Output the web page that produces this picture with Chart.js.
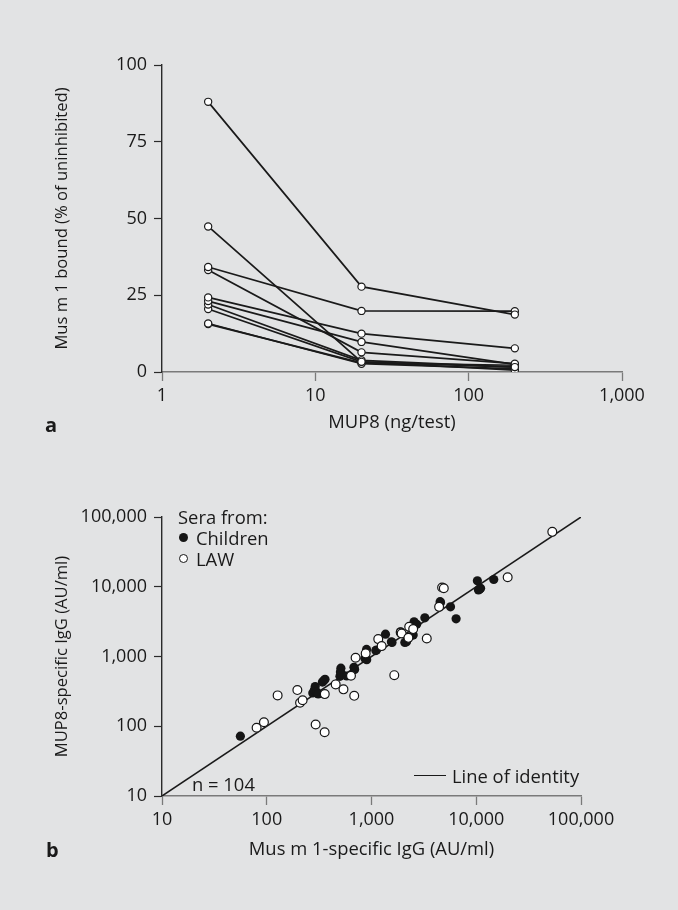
<!DOCTYPE html>
<html>
<head>
<meta charset="utf-8">
<script src="https://cdn.jsdelivr.net/npm/chart.js@4.4.1/dist/chart.umd.min.js"></script>
<style>
  html, body { margin: 0; padding: 0; background: #e2e3e4; }
  #wrap { position: relative; width: 678px; height: 910px; overflow: hidden; font-family: 'Open Sans', sans-serif; color: #1a1a1a; }
  canvas { position: absolute; left: 0; }
  .t { position: absolute; font-size: 18.4px; height: 24px; line-height: 24px; white-space: nowrap; }
  .lbl { position: absolute; font-size: 20px; font-weight: bold; height: 26px; line-height: 26px; }
  .dot { position: absolute; width: 9px; height: 9px; border-radius: 50%; box-sizing: border-box; }
</style>
</head>
<body>
<div id="wrap">
  <canvas id="chartA" width="678" height="455" style="top:0"></canvas>
  <canvas id="chartB" width="678" height="455" style="top:455px"></canvas>

  <div class="lbl" style="left:45px; top:412px">a</div>
  <div class="lbl" style="left:46px; top:837px">b</div>

  <div class="t" style="left:178px; top:505px">Sera from:</div>
  <div class="dot" style="left:179px; top:533px; background:#151515"></div>
  <div class="t" style="left:196px; top:526px">Children</div>
  <div class="dot" style="left:179px; top:554px; background:#fff; border:1.2px solid #151515"></div>
  <div class="t" style="left:196px; top:547px">LAW</div>

  <div class="t" style="left:192px; top:772px">n = 104</div>
  <div style="position:absolute; left:414px; top:775px; width:32px; height:0; border-top:1.5px solid #1a1a1a"></div>
  <div class="t" style="left:452px; top:764px">Line of identity</div>
</div>
<script>
Chart.defaults.font.family = "'Open Sans', sans-serif";
Chart.defaults.font.size = 18;
Chart.defaults.color = '#1a1a1a';

// panel a: inhibition curves
const doses = [2, 20, 200];
const boundCurves = [
  [88, 27.8, 18.7],
  [47.4, 3.3, 1.6],
  [34.2, 19.9, 19.8],
  [33.2, 6.4, 2.7],
  [24.3, 12.5, 7.7],
  [23.1, 9.8, 2.5],
  [22.0, 3.8, 1.6],
  [20.5, 3.3, 0.6],
  [15.8, 2.7, 1.0],
  [15.6, 3.0, 2.2]
];
const xTicksA = [1, 10, 100, 1000];
const yTicksA = [0, 25, 50, 75, 100];

// panel b: MUP8 vs Mus m 1 specific IgG
const childrenX = [56, 275, 285, 290, 300, 310, 340, 350, 360, 500, 505, 510, 520, 580, 680, 690,
  865, 900, 897, 1100, 1115, 1360, 1550, 1570, 1890, 2080, 2160, 2500, 2550, 2700, 3230,
  4520, 4560, 5680, 6420, 10250, 10500, 11000, 10800, 14700];
const childrenY = [72, 300, 330, 370, 310, 290, 430, 450, 470, 520, 600, 680, 560, 525, 700, 650,
  940, 900, 1265, 1215, 1240, 2090, 1625, 1590, 2260, 1590, 1625, 2030, 3140, 2900, 3580,
  6100, 5960, 5150, 3470, 12170, 9000, 9500, 9250, 12700];
const lawX = [80, 94, 127, 196, 208, 220, 293, 357, 358, 455, 540, 637, 684, 705, 880,
  1160, 1250, 1650, 1900, 1940, 2250, 2290, 2500, 3370, 4420, 4720, 4900, 19950, 53200];
const lawY = [95, 114, 277, 330, 217, 236, 106, 82, 289, 398, 338, 530, 273, 960, 1107,
  1775, 1410, 540, 2200, 2140, 1850, 2660, 2470, 1815, 5150, 9770, 9500, 13700, 61200];
const logTicksB = [10, 100, 1000, 10000, 100000];

const fmt = v => Number(v).toLocaleString('en-US');
const titleFont = {size: 18.4};
const yTitleFont = {size: 16.6};

new Chart(document.getElementById('chartA'), {
  type: 'line',
  data: {
    datasets: boundCurves.map(c => ({
      data: c.map((y, i) => ({x: doses[i], y: y})),
      borderColor: '#1a1a1a',
      borderWidth: 1.7,
      pointRadius: 3.6,
      pointBackgroundColor: '#fff',
      pointBorderColor: '#1a1a1a',
      pointBorderWidth: 1.2
    }))
  },
  options: {
    responsive: false,
    animation: false,
    devicePixelRatio: 1,
    layout: {padding: {top: 65, right: 56, bottom: 0, left: 0}},
    plugins: {legend: {display: false}, tooltip: {enabled: false}},
    scales: {
      x: {
        type: 'logarithmic', min: 1, max: 1000,
        afterBuildTicks: s => { s.ticks = xTicksA.map(v => ({value: v})); },
        afterFit: s => { s.height = 83; },
        ticks: {callback: fmt, padding: 4, maxRotation: 0, autoSkip: false},
        grid: {drawOnChartArea: false, tickLength: 9, color: '#7a7a7a', tickWidth: 1.3},
        border: {color: '#7a7a7a', width: 1.6},
        title: {display: true, text: 'MUP8 (ng/test)', font: titleFont, padding: {top: 0, bottom: 21}}
      },
      y: {
        min: 0, max: 100,
        afterBuildTicks: s => { s.ticks = yTicksA.map(v => ({value: v})); },
        afterFit: s => { s.width = 162; },
        ticks: {padding: 7},
        grid: {drawOnChartArea: false, tickLength: 8, color: '#2a2a2a', tickWidth: 1.2},
        border: {color: '#2a2a2a', width: 1.4},
        title: {display: true, text: 'Mus m 1 bound (% of uninhibited)', font: yTitleFont, padding: {top: 52, bottom: 0}}
      }
    }
  }
});

new Chart(document.getElementById('chartB'), {
  type: 'scatter',
  data: {
    datasets: [
      {
        label: 'LAW',
        data: lawX.map((x, i) => ({x: x, y: lawY[i]})),
        pointRadius: 4.4,
        pointBackgroundColor: '#fff',
        pointBorderColor: '#151515',
        pointBorderWidth: 1.2,
        order: 0
      },
      {
        label: 'Children',
        data: childrenX.map((x, i) => ({x: x, y: childrenY[i]})),
        pointRadius: 4.6,
        pointBackgroundColor: '#151515',
        pointBorderColor: '#151515',
        pointBorderWidth: 0,
        order: 1
      },
      {
        type: 'line',
        label: 'Line of identity',
        data: [{x: 10, y: 10}, {x: 100000, y: 100000}],
        borderColor: '#1a1a1a',
        borderWidth: 1.5,
        pointRadius: 0,
        order: 2
      }
    ]
  },
  options: {
    responsive: false,
    animation: false,
    devicePixelRatio: 1,
    layout: {padding: {top: 62, right: 97, bottom: 0, left: 0}},
    plugins: {legend: {display: false}, tooltip: {enabled: false}},
    scales: {
      x: {
        type: 'logarithmic', min: 10, max: 100000,
        afterBuildTicks: s => { s.ticks = logTicksB.map(v => ({value: v})); },
        afterFit: s => { s.height = 114; },
        ticks: {callback: fmt, padding: 4, maxRotation: 0, autoSkip: false},
        grid: {drawOnChartArea: false, tickLength: 9, color: '#7a7a7a', tickWidth: 1.3},
        border: {color: '#7a7a7a', width: 1.6},
        title: {display: true, text: 'Mus m 1-specific IgG (AU/ml)', font: titleFont, padding: {top: 0, bottom: 49}}
      },
      y: {
        type: 'logarithmic', min: 10, max: 100000,
        afterBuildTicks: s => { s.ticks = logTicksB.map(v => ({value: v})); },
        afterFit: s => { s.width = 162; },
        ticks: {callback: fmt, padding: 7},
        grid: {drawOnChartArea: false, tickLength: 8, color: '#2a2a2a', tickWidth: 1.2},
        border: {color: '#2a2a2a', width: 1.4},
        title: {display: true, text: 'MUP8-specific IgG (AU/ml)', font: yTitleFont, padding: {top: 52, bottom: 0}}
      }
    }
  }
});
</script>
</body>
</html>
